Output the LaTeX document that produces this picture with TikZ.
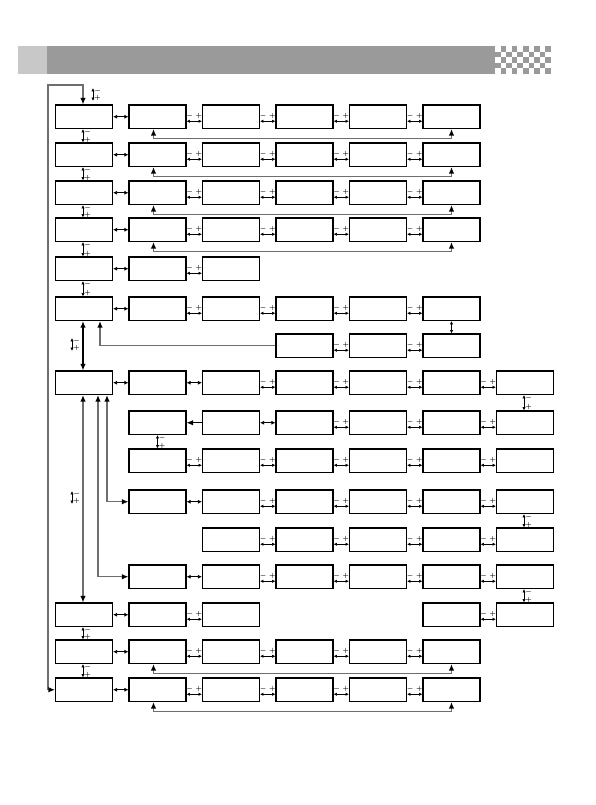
\documentclass[tikz,border=0pt]{standalone}
\usepackage{tikz}
\usetikzlibrary{arrows.meta,calc}
\definecolor{bargray}{HTML}{9A9A9A}
\definecolor{tabgray}{HTML}{C8C8C8}
\definecolor{linegray}{HTML}{6E6E6E}

\begin{document}
\begin{tikzpicture}[x=1pt,y=-1pt,>=Latex]
\tikzset{screen/.style={draw,line width=1.1pt,minimum width=57pt,minimum height=23.5pt,inner sep=0pt},
 bighead/.tip={Latex[length=6.5pt,width=5.5pt,color=black]}, tiehead/.tip={Latex[length=4pt,width=4pt]}, pmhead/.tip={Latex[length=3.4pt,width=3.4pt]},
 tie/.style={tiehead-tiehead,line width=1pt}, pm/.style={pmhead-pmhead,line width=0.9pt},
 sign/.style={font=\fontsize{6.5}{6.5}\selectfont\boldmath,text=black,inner sep=0.2pt},
 back/.style={line width=1.3pt,draw=linegray}}
\useasboundingbox (0,0) rectangle (595,805);
% header bar
\fill[tabgray] (18,46) rectangle (47,74);
\fill[bargray] (47,46) rectangle (495,74);
\foreach \i in {0,...,9} \foreach \j in {0,...,4} {\pgfmathparse{int(mod(\i+\j,2))}\ifnum\pgfmathresult=1 \fill[bargray] (495+5.6*\i,46+5.6*\j) rectangle ++(5.6,5.6);\fi}
% screens, row by row
\foreach \r/\y/\cs in {0/105/{0,...,5},1/143/{0,...,5},2/181/{0,...,5},3/218/{0,...,5},4/257/{0,1,2},5/297/{0,...,5},6/334/{3,4,5},7/371/{0,...,6},8/411/{1,...,6},9/449/{1,...,6},10/490/{1,...,6},11/528/{2,...,6},12/565/{1,...,6},13/603/{0,1,2,5,6},14/640/{0,...,5},15/678/{0,...,5}}
  \foreach \col in \cs \node[screen] (r\r-\col) at (84+73.5*\col,\y+11.75) {};
% plain links
\foreach \r/\a/\b in {0/0/1,1/0/1,2/0/1,3/0/1,4/0/1,5/0/1,7/0/1,7/1/2,8/2/3,10/1/2,12/1/2,13/0/1,14/0/1,15/0/1}
  \draw[tie] (r\r-\a.east) -- (r\r-\b.west);
% minus / plus steps
\foreach \r/\cs in {0/{1,2,3,4},1/{1,2,3,4},2/{1,2,3,4},3/{1,2,3,4},4/{1},5/{1,2,3,4},6/{3,4},7/{2,3,4,5},8/{3,4,5},9/{1,2,3,4,5},10/{2,3,4,5},11/{2,3,4,5},12/{2,3,4,5},13/{1,5},14/{1,2,3,4},15/{1,2,3,4}}
  \foreach \col in \cs {
    \pgfmathtruncatemacro\nxt{\col+1}
    \draw[pm] ([yshift=-4.5pt]r\r-\col.east) -- node[pos=0.2,above=2pt,sign]{$-$} node[pos=0.8,above=2pt,sign]{$+$} ([yshift=-4.5pt]r\r-\nxt.west);}
\foreach \col/\a/\b/\dx in {0/0/1/-1,0/1/2/-1,0/2/3/-1,0/3/4/-1,0/4/5/-1,0/13/14/-1,0/14/15/-1,1/8/9/0,6/7/8/-1,6/10/11/-1,6/12/13/-1}
  \draw[pm] ([xshift=\dx pt]r\a-\col.south) -- node[pos=0.2,right=0.8pt,sign]{$-$} node[pos=0.8,right=0.8pt,sign]{$+$} ([xshift=\dx pt]r\b-\col.north);
\draw[pm] (r5-5.south) -- (r6-5.north);
% loose markers
\foreach \m/\x/\y in {top/93/88,mid/72/338,low/72/491} {
  \coordinate (\m a) at (\x,\y); \coordinate (\m b) at (\x,\y+13);
  \draw[pm] (\m a) -- node[pos=0.2,right=0.8pt,sign]{$-$} node[pos=0.8,right=0.8pt,sign]{$+$} (\m b);}
% return lines
\foreach \r in {0,1,2,3,14,15}
  \draw[back,bighead-bighead] ([xshift=-4pt]r\r-1.south) -- ++(0,9.5) -| (r\r-5.south);
\coordinate (corner) at (48,85);
\draw[back,bighead-bighead] (r15-0.west) -| (corner) -| ([xshift=-1pt]r0-0.north);
\draw[back,-bighead] (r6-3.west) -| ([xshift=16pt]r5-0.south);
\draw[line width=1.3pt,bighead-bighead] ([xshift=-1pt]r5-0.south) -- ([xshift=-1pt]r7-0.north);
\draw[back,bighead-bighead] ([xshift=-1pt]r7-0.south) -- ([xshift=-1pt]r13-0.north);
\draw[back,bighead-bighead] ([xshift=23pt]r7-0.south) |- (r10-1.west);
\draw[back,bighead-bighead] ([xshift=14pt]r7-0.south) |- (r12-1.west);
\draw[line width=1pt,-bighead] (r8-2.west) -- (r8-1.east);
\end{tikzpicture}
\end{document}
